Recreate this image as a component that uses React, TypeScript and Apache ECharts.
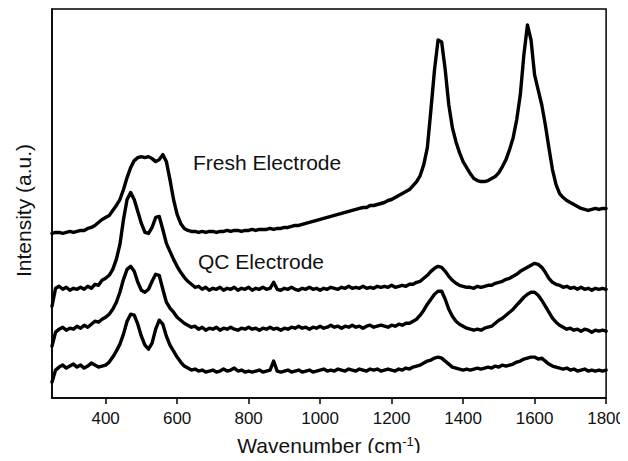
import React, { useEffect, useRef } from "react";
import * as echarts from "echarts";

// Raman shift axis (cm^-1), sampled every 10 cm^-1 from 250 to 1800
const wavenumbers: number[] = Array.from({ length: 156 }, (_, i) => 250 + i * 10);

// Intensities (a.u., curves offset vertically as in the figure)
const freshElectrode: number[] = [
  165, 166, 166, 165, 166, 167, 166, 167, 168, 168,
  170, 171, 173, 176, 179, 181, 183, 188, 193, 199,
  209, 221, 231, 238, 241, 242, 241, 242, 240, 237,
  239, 244, 237, 219, 199, 184, 175, 170, 168, 167,
  167, 166, 167, 166, 167, 167, 166, 167, 167, 168,
  167, 168, 168, 167, 168, 168, 169, 168, 169, 169,
  169, 170, 169, 170, 170, 171, 171, 172, 173, 173,
  174, 175, 176, 177, 178, 179, 180, 181, 182, 183,
  184, 185, 186, 187, 188, 189, 190, 191, 191, 193,
  193, 194, 195, 196, 198, 199, 201, 203, 205, 207,
  209, 213, 217, 223, 234, 251, 289, 329, 359, 357,
  329, 294, 271, 257, 246, 237, 231, 225, 220, 218,
  217, 217, 218, 220, 222, 226, 232, 239, 249, 261,
  279, 304, 344, 374, 359, 324, 309, 294, 274, 251,
  229, 214, 205, 201, 198, 196, 194, 192, 190, 189,
  188, 189, 190, 189, 190, 190,
];

const qcElectrodeA: number[] = [
  92, 110, 112, 109, 111, 108, 110, 109, 111, 109,
  112, 110, 114, 113, 118, 120, 123, 129, 139, 154,
  179, 199, 206, 199, 187, 175, 166, 165, 171, 181,
  182, 169, 155, 147, 139, 132, 126, 121, 117, 114,
  111, 112, 109, 111, 108, 110, 109, 111, 108, 110,
  109, 111, 108, 110, 109, 111, 108, 110, 109, 111,
  109, 110, 116, 109, 108, 110, 109, 111, 109, 108,
  110, 109, 111, 109, 110, 108, 110, 109, 111, 110,
  109, 111, 110, 112, 110, 111, 110, 112, 110, 111,
  110, 112, 111, 112, 111, 113, 111, 112, 113, 112,
  114, 114, 116, 117, 120, 123, 127, 130, 132, 131,
  127, 122, 118, 115, 113, 112, 111, 111, 110, 112,
  111, 112, 113, 113, 115, 116, 117, 119, 120, 122,
  124, 127, 129, 131, 133, 135, 134, 131, 126, 120,
  116, 114, 113, 111, 112, 110, 111, 109, 111, 109,
  110, 108, 110, 109, 110, 109,
];

const qcElectrodeB: number[] = [
  52, 66, 69, 71, 68, 70, 69, 72, 70, 73,
  71, 74, 77, 76, 79, 81, 84, 89, 96, 106,
  119, 129, 132, 127, 116, 108, 106, 109, 117, 124,
  123, 109, 96, 90, 86, 81, 78, 75, 73, 71,
  72, 69, 71, 68, 70, 69, 71, 68, 70, 69,
  71, 69, 68, 70, 69, 71, 69, 70, 68, 70,
  69, 71, 69, 70, 68, 70, 69, 71, 70, 72,
  70, 71, 69, 71, 70, 72, 70, 71, 73, 71,
  72, 70, 72, 71, 73, 71, 72, 70, 72, 73,
  71, 72, 73, 72, 71, 73, 72, 74, 73, 75,
  75, 77, 79, 83, 88, 94, 99, 104, 107, 107,
  99, 89, 82, 77, 74, 72, 70, 69, 68, 69,
  68, 70, 71, 72, 75, 78, 80, 83, 86, 89,
  93, 97, 101, 104, 106, 106, 103, 98, 92, 86,
  80, 76, 73, 71, 69, 70, 68, 69, 67, 69,
  68, 66, 68, 67, 68, 67,
];

const qcElectrodeC: number[] = [
  16, 28, 31, 33, 30, 32, 34, 31, 33, 30,
  32, 35, 33, 31, 32, 33, 36, 41, 47, 54,
  64, 77, 84, 83, 74, 62, 53, 49, 55, 69,
  78, 74, 62, 53, 47, 41, 36, 32, 30, 28,
  29, 27, 28, 26, 27, 28, 26, 27, 29, 27,
  28, 30, 27, 28, 26, 27, 26, 27, 28, 26,
  27, 28, 37, 27, 26, 27, 28, 26, 27, 28,
  26, 27, 28, 26, 27, 28, 29, 27, 28, 27,
  29, 28, 27, 29, 28, 27, 29, 28, 27, 29,
  28, 29, 27, 28, 29, 28, 27, 29, 28, 30,
  29, 31, 32, 33, 35, 37, 38, 40, 41, 40,
  37, 34, 31, 30, 29, 28, 29, 28, 29, 30,
  29, 30, 31, 30, 32, 31, 33, 32, 33, 34,
  36, 37, 39, 40, 41, 41, 39, 40, 37, 34,
  32, 31, 30, 29, 30, 28, 29, 27, 28, 29,
  27, 28, 27, 28, 27, 28,
];

const xTickValues: number[] = [400, 600, 800, 1000, 1200, 1400, 1600, 1800];

const curveLabels = [
  { text: "Fresh Electrode", x: 193, y: 162 },
  { text: "QC Electrode", x: 198, y: 261 },
];

const FONT = "'Liberation Sans', Arial, Helvetica, sans-serif";
const INK = "#111";

export default function App() {
  const ref = useRef<HTMLDivElement>(null);

  useEffect(() => {
    if (!ref.current) return;
    const chart = echarts.init(ref.current, undefined, { renderer: "svg" });
    const mk = (vals: number[]) => wavenumbers.map((w, i) => [w, vals[i]]);
    const lineStyle = { color: "#000", width: 3.4, join: "round", cap: "round" };
    const series = [freshElectrode, qcElectrodeA, qcElectrodeB, qcElectrodeC].map((v, k) => ({
      type: "line",
      name: ["Fresh", "QC1", "QC2", "QC3"][k],
      data: mk(v),
      showSymbol: false,
      symbol: "none",
      lineStyle,
      itemStyle: { color: "#000" },
      smooth: false,
      clip: true,
    }));

    chart.setOption({
      animation: false,
      backgroundColor: "#fff",
      grid: {
        left: 52,
        right: 20,
        top: 9,
        bottom: 62,
        show: true,
        borderColor: "#000",
        borderWidth: 1.5,
        backgroundColor: "transparent",
      },
      xAxis: {
        type: "value",
        min: 250,
        max: 1800,
        name: "Wavenumber (cm{sup|-1})",
        nameLocation: "middle",
        nameGap: 37,
        nameTextStyle: {
          fontFamily: FONT,
          fontSize: 21,
          color: INK,
          rich: {
            sup: { fontFamily: FONT, fontSize: 13, color: INK, verticalAlign: "top" },
          },
        },
        axisLine: { show: true, lineStyle: { color: "#000", width: 1.5 } },
        axisTick: {
          show: true,
          inside: false,
          length: 6,
          customValues: xTickValues,
          lineStyle: { color: "#000", width: 1.5 },
        },
        axisLabel: {
          show: true,
          customValues: xTickValues,
          formatter: (v: number) => String(v),
          margin: 12,
          fontFamily: FONT,
          fontSize: 17,
          color: INK,
        },
        splitLine: { show: false },
      },
      yAxis: {
        type: "value",
        min: 0,
        max: 390,
        name: "Intensity (a.u.)",
        nameLocation: "middle",
        nameGap: 18,
        nameTextStyle: {
          fontFamily: FONT,
          fontSize: 21,
          color: INK,
          padding: [0, 14, 0, 0],
        },
        axisLine: { show: true, lineStyle: { color: "#000", width: 1.5 } },
        axisTick: { show: false },
        axisLabel: { show: false },
        splitLine: { show: false },
      },
      graphic: curveLabels.map((l) => ({
        type: "text",
        x: l.x,
        y: l.y,
        style: {
          text: l.text,
          fontFamily: FONT,
          fontSize: 21,
          fill: INK,
          verticalAlign: "middle",
          align: "left",
        },
      })),
      series,
    });

    return () => chart.dispose();
  }, []);

  return <div ref={ref} style={{ width: 628, height: 461, margin: -8 }} />;
}
